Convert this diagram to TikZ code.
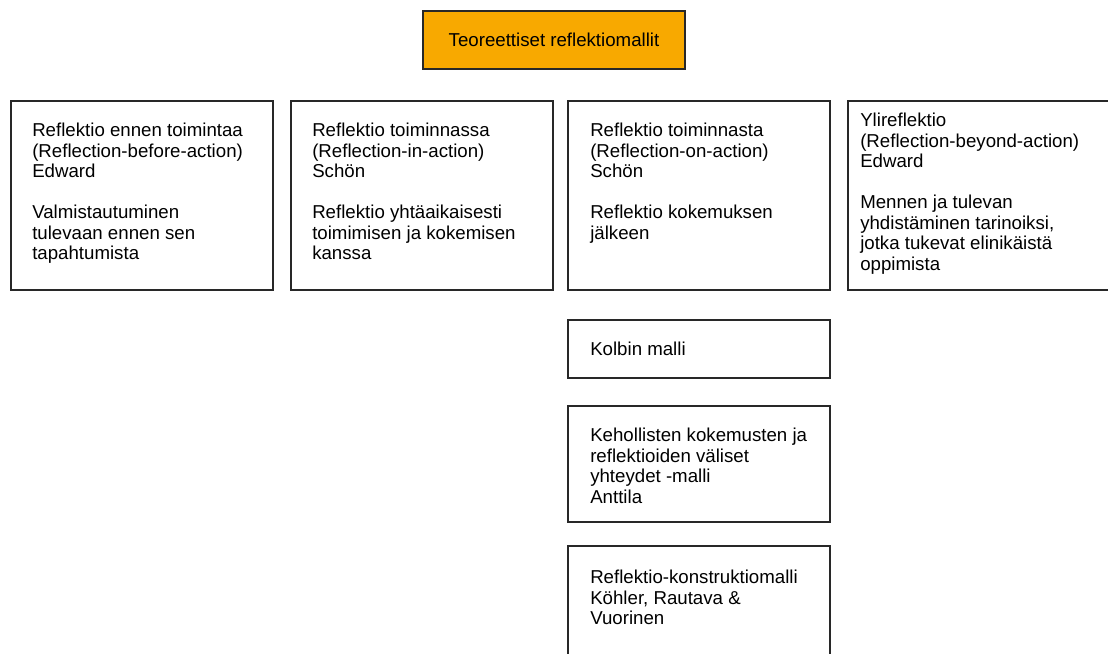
\documentclass[tikz,border=0pt]{standalone}
\usepackage{fontspec}
\setmainfont{Liberation Sans}
\definecolor{boxorange}{RGB}{248,169,0}
\definecolor{boxline}{RGB}{40,40,40}
\newcommand{\lines}[1]{\begin{tabular}[t]{@{}l@{}}#1\end{tabular}}
\begin{document}
\begin{tikzpicture}[x=0.75pt,y=-0.75pt,
  box/.style={draw=boxline,line width=0.8pt,rectangle,inner sep=0pt,minimum width=196.5pt},
  txt/.style={anchor=base west,inner sep=0pt,font=\fontsize{14}{15.4}\selectfont},
]
\useasboundingbox (0,0) rectangle (1108,654);
\clip (0,0) rectangle (1108,654);
% title
\node[box,fill=boxorange,minimum height=43.5pt,font=\fontsize{14}{15.4}\selectfont] (top) at (554,40) {Teoreettiset reflektiomallit};
% row boxes
\node[box,minimum height=141.75pt] (b1) at (142,195.5) {};
\node[box,minimum height=141.75pt] (b2) at (422,195.5) {};
\node[box,minimum height=141.75pt] (b3) at (699,195.5) {};
\node[box,minimum height=141.75pt] (b4) at (979,195.5) {};
\node[box,minimum height=43.5pt] (kolb) at (699,349) {};
\node[box,minimum height=87pt] (keho) at (699,464) {};
\node[box,minimum height=87pt] (konst) at (699,604) {};
% texts
\node[txt] (t1) at (32,136.5) {\lines{Reflektio ennen toimintaa\\(Reflection-before-action)\\Edward\\ \\Valmistautuminen\\tulevaan ennen sen\\tapahtumista}};
\node[txt] (t2) at (312,136.5) {\lines{Reflektio toiminnassa\\(Reflection-in-action)\\Schön\\ \\Reflektio yhtäaikaisesti\\toimimisen ja kokemisen\\kanssa}};
\node[txt] (t3) at (590,136.5) {\lines{Reflektio toiminnasta\\(Reflection-on-action)\\Schön\\ \\Reflektio kokemuksen\\jälkeen}};
\node[txt] (t4) at (860,126.5) {\lines{Ylireflektio\\(Reflection-beyond-action)\\Edward\\ \\Mennen ja tulevan\\yhdistäminen tarinoiksi,\\jotka tukevat elinikäistä\\oppimista}};
\node[txt] (t5) at (590,355.5) {Kolbin malli};
\node[txt] (t6) at (590,441.5) {\lines{Kehollisten kokemusten ja\\reflektioiden väliset\\yhteydet -malli\\Anttila}};
\node[txt] (t7) at (590,583.5) {\lines{Reflektio-konstruktiomalli\\Köhler, Rautava \&\\Vuorinen}};
\end{tikzpicture}
\end{document}
